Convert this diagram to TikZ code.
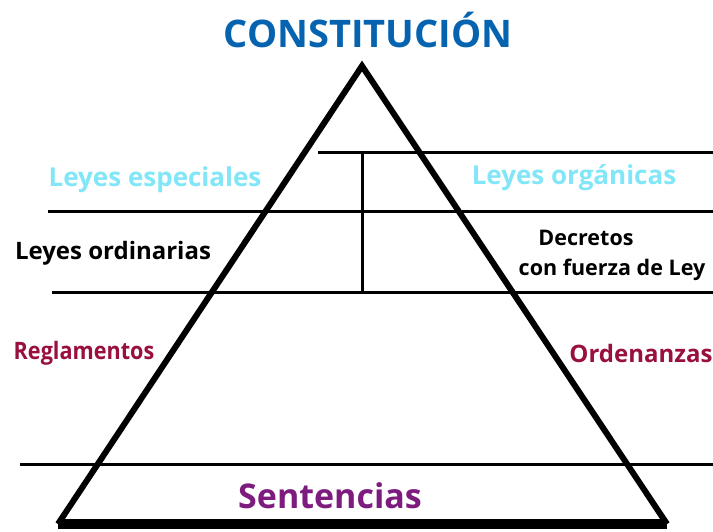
\documentclass[tikz,border=0pt]{standalone}
\usepackage{fontspec}
\setmainfont{Open Sans}
\usetikzlibrary{positioning}
\definecolor{titleblue}{HTML}{0563AF}
\definecolor{leyescyan}{HTML}{80E6F8}
\definecolor{reglared}{HTML}{990F3D}
\definecolor{sentpurple}{HTML}{7D1B7E}
\newcommand{\fsz}[1]{\fontsize{#1}{#1}\selectfont\bfseries}

\begin{document}
\begin{tikzpicture}[
      x=1pt, y=-1pt,
      side line/.style={line width=6pt,line join=miter},
      base line/.style={line width=10pt},
      level line/.style={line width=3pt},
      lbl/.style={inner sep=0pt,anchor=center}
      ]
      \useasboundingbox (0,0) rectangle (713,531);
      % pyramid
      \coordinate (apex) at (362,66);
      \coordinate (base left) at (58,524);
      \coordinate (base right) at (667,524);
      \draw [side line] (base left) -- (apex) -- (base right);
      \draw [base line] (base left) -- (base right);
      % levels
      \draw [level line] (318,152) -- (713,152);
      \draw [level line] (48,211) -- (713,211);
      \draw [level line] (52,292) -- (713,292);
      \draw [level line] (20,464) -- (713,464);
      \draw [level line] (362,152) -- (362,292);
      % top
      \node [lbl,text=titleblue] (constitucion) at (368,30) {\fsz{38}CONSTITUCIÓN};
      % leyes
      \node [lbl,text=leyescyan] (especiales) at (155,180) {\fsz{26}Leyes especiales};
      \node [lbl,text=leyescyan] (organicas) at (574,178) {\fsz{26}Leyes orgánicas};
      \node [lbl] (ordinarias) at (113,253) {\fsz{24}Leyes ordinarias};
      \node [lbl] (decretos) at (586,238) {\fsz{21.5}Decretos};
      \node [lbl] (fuerza) at (612,270) {\fsz{21.5}con fuerza de Ley};
      % reglamentos
      \node [lbl,text=reglared] (reglamentos) at (84,353) {\scalebox{0.9}[1]{\fsz{24}Reglamentos}};
      \node [lbl,text=reglared] (ordenanzas) at (641,353) {\fsz{24}Ordenanzas};
      % bottom
      \node [lbl,text=sentpurple] (sentencias) at (330,496) {\fsz{34}Sentencias};
\end{tikzpicture}
\end{document}
